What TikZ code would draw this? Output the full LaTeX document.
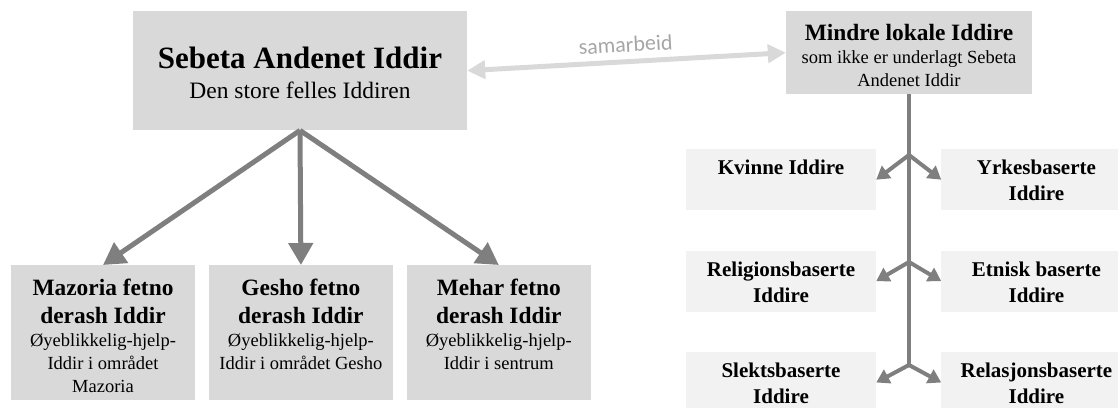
\documentclass[tikz,border=0pt]{standalone}
\usepackage{fontspec}
\setmainfont{Liberation Serif}
\newfontfamily\samfont{Carlito}
\usetikzlibrary{positioning,arrows.meta}

\definecolor{boxgray}{HTML}{D9D9D9}
\definecolor{palegray}{HTML}{F2F2F2}
\definecolor{arrowgray}{HTML}{7F7F7F}
\definecolor{labelgray}{HTML}{A6A6A6}

\newcommand\titlebig{\fontsize{31}{37}\selectfont\bfseries}
\newcommand\subbig{\fontsize{23.5}{30}\selectfont\mdseries}
\newcommand\titlemid{\fontsize{23.4}{28}\selectfont\bfseries}
\newcommand\bodytext{\fontsize{18.5}{23}\selectfont\mdseries}
\newcommand\branchtitle{\fontsize{21}{26}\selectfont\bfseries}

\begin{document}
\begin{tikzpicture}[x=1pt, y=-1pt,
    box/.style = {fill=boxgray, inner sep=0pt, align=flush center},
    fetno/.style = {box, text width=184pt, text height=30pt, text depth=105pt, font=\titlemid},
    pale/.style = {fill=palegray, inner sep=0pt, align=flush center, text width=190pt, text height=25.5pt, text depth=35.5pt, font=\branchtitle},
    bigarrow/.style = {draw=arrowgray, line width=5pt, -{Triangle[width=24pt,length=22pt]}},
    smallarrow/.style = {draw=arrowgray, line width=4pt, -{Triangle[width=15pt,length=13pt]}},
    stem/.style = {draw=arrowgray, line width=4pt},
    coop/.style = {draw=boxgray, line width=5pt, {Triangle[width=18pt,length=18pt]}-{Triangle[width=18pt,length=18pt]}}]
    \useasboundingbox (0,0) rectangle (1118,407);
    \node[box, text width=334pt, text height=57pt, text depth=62pt, anchor=north] (sebeta) at (300,11)
        {\titlebig Sebeta Andenet Iddir\par\subbig Den store felles Iddiren\par};
    \node[box, text width=246pt, text height=29pt, text depth=54pt, anchor=north] (mindre) at (909,11)
        {\titlemid Mindre lokale Iddire\par\bodytext som ikke er underlagt Sebeta\par Andenet Iddir\par};
    \node[fetno, anchor=north] (mazoria) at (103,265)
        {Mazoria fetno\par derash Iddir\par\bodytext Øyeblikkelig-hjelp-\par Iddir i området\par Mazoria\par};
    \node[fetno] (gesho) [right=13.5pt of mazoria]
        {Gesho fetno\par derash Iddir\par\bodytext Øyeblikkelig-hjelp-\par Iddir i området Gesho\par};
    \node[fetno] (mehar) [right=13.5pt of gesho]
        {Mehar fetno\par derash Iddir\par\bodytext Øyeblikkelig-hjelp-\par Iddir i sentrum\par};
    \node[pale, anchor=north] (kvinne) at (781,149) {Kvinne Iddire};
    \node[pale] (yrkes) [right=65pt of kvinne] {Yrkesbaserte\par Iddire};
    \node[pale] (religion) [below=40pt of kvinne] {Religionsbaserte\par Iddire};
    \node[pale] (etnisk) [right=65pt of religion] {Etnisk baserte\par Iddire};
    \node[pale] (slekt) [below=40pt of religion] {Slektsbaserte\par Iddire};
    \node[pale] (relasjon) [right=65pt of slekt] {Relasjonsbaserte\par Iddire};
    \coordinate (j1) at (909,155);
    \coordinate (j2) at (909,262);
    \coordinate (j3) at (909,365);
    \draw[coop] (sebeta.east) -- (mindre.west)
        node[midway, above=7pt, sloped, inner sep=0pt, text=labelgray, font=\samfont\fontsize{22}{26}\selectfont] {samarbeid};
    \draw[bigarrow] (sebeta.south) -- (mazoria.north);
    \draw[bigarrow] (sebeta.south) -- (gesho.north);
    \draw[bigarrow] (sebeta.south) -- (mehar.north);
    \draw[stem] (mindre.south) -- (j3);
    \draw[smallarrow] (j1) -- (kvinne.east);
    \draw[smallarrow] (j1) -- (yrkes.west);
    \draw[smallarrow] (j2) -- (religion.east);
    \draw[smallarrow] (j2) -- (etnisk.west);
    \draw[smallarrow] (j3) -- (slekt.east);
    \draw[smallarrow] (j3) -- (relasjon.west);
\end{tikzpicture}
\end{document}
